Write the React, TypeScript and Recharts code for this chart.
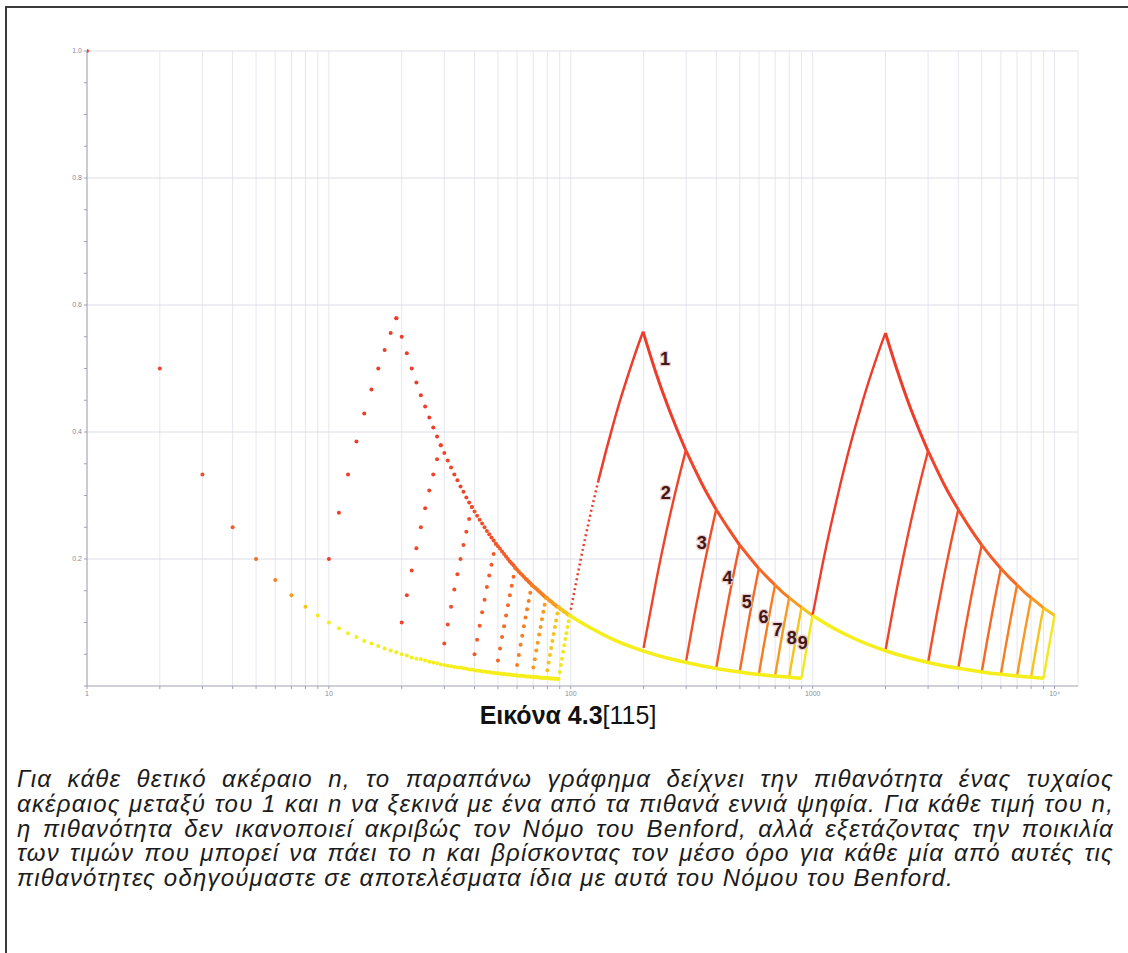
import React from "react";
import { ComposedChart, Line, Scatter, XAxis, YAxis, CartesianGrid } from "recharts";

// colour of each leading digit 1..9, red -> yellow
const DIGIT_COLORS = ["#ef3c2a", "#f0442a", "#f14e28", "#f35a26", "#f46a24", "#f67e22", "#f89a20", "#f6c21e", "#f3e81c"];
const LOWER_COLOR = "#f5ee1a";
const AXIS_COLOR = "#a0a0b8";
const FONT = "'Liberation Sans', Arial, Helvetica, sans-serif";

const X_TICKS = [1, 2, 3, 4, 5, 6, 7, 8, 9, 10, 20, 30, 40, 50, 60, 70, 80, 90, 100, 200, 300, 400, 500, 600, 700, 800, 900,
  1000, 2000, 3000, 4000, 5000, 6000, 7000, 8000, 9000, 10000];
const X_LABELS: Record<number, string> = { 1: "1", 10: "10", 100: "100", 1000: "1000", 10000: "10⁴" };
const Y_TICKS = [0, 0.05, 0.1, 0.15, 0.2, 0.25, 0.3, 0.35, 0.4, 0.45, 0.5, 0.55, 0.6, 0.65, 0.7, 0.75, 0.8, 0.85, 0.9, 0.95, 1];
const Y_LABELS = [0.2, 0.4, 0.6, 0.8, 1];

// n = 1..9
const N1 = [1, 2, 3, 4, 5, 6, 7, 8, 9];
const P1 = [1, 0.5, 0.333, 0.25, 0.2, 0.167, 0.143, 0.125, 0.111];

// n = 10..99, one dot per integer
const N2 = [
  10, 11, 12, 13, 14, 15, 16, 17, 18, 19,
  20, 21, 22, 23, 24, 25, 26, 27, 28, 29,
  30, 31, 32, 33, 34, 35, 36, 37, 38, 39,
  40, 41, 42, 43, 44, 45, 46, 47, 48, 49,
  50, 51, 52, 53, 54, 55, 56, 57, 58, 59,
  60, 61, 62, 63, 64, 65, 66, 67, 68, 69,
  70, 71, 72, 73, 74, 75, 76, 77, 78, 79,
  80, 81, 82, 83, 84, 85, 86, 87, 88, 89,
  90, 91, 92, 93, 94, 95, 96, 97, 98, 99,
];
const UPPER2 = [
  null, null, null, null, null, null, null, null, null, 0.579,
  0.55, 0.524, 0.5, 0.478, 0.458, 0.44, 0.423, 0.407, 0.393, 0.379,
  0.367, 0.355, 0.344, 0.333, 0.324, 0.314, 0.306, 0.297, 0.289, 0.282,
  0.275, 0.268, 0.262, 0.256, 0.25, 0.244, 0.239, 0.234, 0.229, 0.224,
  0.22, 0.216, 0.212, 0.208, 0.204, 0.2, 0.196, 0.193, 0.19, 0.186,
  0.183, 0.18, 0.177, 0.175, 0.172, 0.169, 0.167, 0.164, 0.162, 0.159,
  0.157, 0.155, 0.153, 0.151, 0.149, 0.147, 0.145, 0.143, 0.141, 0.139,
  0.138, 0.136, 0.134, 0.133, 0.131, 0.129, 0.128, 0.126, 0.125, 0.124,
  0.122, 0.121, 0.12, 0.118, 0.117, 0.116, 0.115, 0.113, 0.112, 0.111,
];
const LOWER2 = [
  0.1, 0.091, 0.083, 0.077, 0.071, 0.067, 0.063, 0.059, 0.056, 0.053,
  0.05, 0.048, 0.045, 0.043, 0.042, 0.04, 0.038, 0.037, 0.036, 0.034,
  0.033, 0.032, 0.031, 0.03, 0.029, 0.029, 0.028, 0.027, 0.026, 0.026,
  0.025, 0.024, 0.024, 0.023, 0.023, 0.022, 0.022, 0.021, 0.021, 0.02,
  0.02, 0.0196, 0.019, 0.019, 0.0185, 0.018, 0.018, 0.0175, 0.017, 0.017,
  0.0167, 0.016, 0.016, 0.016, 0.0156, 0.015, 0.015, 0.015, 0.0147, 0.0145,
  0.014, 0.014, 0.014, 0.0137, 0.0135, 0.013, 0.013, 0.013, 0.0128, 0.0127,
  0.0125, 0.0123, 0.012, 0.012, 0.012, 0.0118, 0.0116, 0.0115, 0.0114, 0.0112,
  null, null, null, null, null, null, null, null, null, null,
];
// rise of digit d over n = 10d..10d+9
const RISE2 = [
  [0.2, 0.273, 0.333, 0.385, 0.429, 0.467, 0.5, 0.529, 0.556, 0.579],
  [0.1, 0.143, 0.182, 0.217, 0.25, 0.28, 0.308, 0.333, 0.357, 0.379],
  [0.067, 0.097, 0.125, 0.152, 0.176, 0.2, 0.222, 0.243, 0.263, 0.282],
  [0.05, 0.073, 0.095, 0.116, 0.136, 0.156, 0.174, 0.191, 0.208, 0.224],
  [0.04, 0.059, 0.077, 0.094, 0.111, 0.127, 0.143, 0.158, 0.172, 0.186],
  [0.033, 0.049, 0.065, 0.079, 0.094, 0.108, 0.121, 0.134, 0.147, 0.159],
  [0.029, 0.042, 0.056, 0.068, 0.081, 0.093, 0.105, 0.117, 0.128, 0.139],
  [0.025, 0.037, 0.049, 0.06, 0.071, 0.082, 0.093, 0.103, 0.114, 0.124],
  [0.022, 0.033, 0.043, 0.054, 0.064, 0.074, 0.083, 0.093, 0.102, 0.111],
];

// n = 100..999
const LOWER3_N = [100, 120, 150, 200, 250, 300, 400, 500, 600, 700, 800, 899];
const LOWER3_P = [0.11, 0.092, 0.073, 0.055, 0.044, 0.037, 0.0275, 0.022, 0.018, 0.0157, 0.0138, 0.0122];
const UPPER3_N = [199, 225, 250, 275, 299, 325, 350, 375, 399, 450, 499, 550, 599, 650, 699, 750, 799, 850, 899, 950, 999];
const UPPER3_P = [0.558, 0.493, 0.444, 0.404, 0.371, 0.342, 0.317, 0.296, 0.278, 0.247, 0.222, 0.202, 0.185, 0.171,
  0.159, 0.148, 0.139, 0.131, 0.124, 0.117, 0.111];
const RISE3_N = [
  [100, 110, 120, 130, 140, 150, 160, 170, 180, 190, 199],
  [200, 225, 250, 275, 299],
  [300, 325, 350, 375, 399],
  [400, 425, 450, 475, 499],
  [500, 525, 550, 575, 599],
  [600, 625, 650, 675, 699],
  [700, 725, 750, 775, 799],
  [800, 825, 850, 875, 899],
  [900, 925, 950, 975, 999],
];
const RISE3_P = [
  [0.12, 0.2, 0.267, 0.323, 0.371, 0.413, 0.45, 0.482, 0.511, 0.537, 0.558],
  [0.06, 0.164, 0.248, 0.316, 0.371],
  [0.04, 0.114, 0.177, 0.232, 0.278],
  [0.03, 0.087, 0.138, 0.183, 0.222],
  [0.024, 0.07, 0.113, 0.151, 0.185],
  [0.02, 0.059, 0.095, 0.129, 0.159],
  [0.017, 0.051, 0.083, 0.112, 0.139],
  [0.015, 0.045, 0.073, 0.099, 0.124],
  [0.013, 0.04, 0.065, 0.089, 0.111],
];

// n = 1000..9999
const LOWER4_N = [1000, 1200, 1500, 2000, 2500, 3000, 4000, 5000, 6000, 7000, 8000, 8999];
const LOWER4_P = [0.111, 0.0925, 0.074, 0.0555, 0.0444, 0.037, 0.0278, 0.0222, 0.0185, 0.0159, 0.0139, 0.0123];
const UPPER4_N = [1999, 2250, 2500, 2750, 2999, 3250, 3500, 3750, 3999, 4500, 4999, 5500, 5999, 6500, 6999, 7500, 7999,
  8500, 8999, 9500, 9999];
const UPPER4_P = [0.556, 0.494, 0.444, 0.404, 0.37, 0.342, 0.317, 0.296, 0.278, 0.247, 0.222, 0.202, 0.185, 0.171,
  0.159, 0.148, 0.139, 0.131, 0.123, 0.117, 0.111];
const RISE4_N = [
  [1000, 1100, 1200, 1300, 1400, 1500, 1600, 1700, 1800, 1900, 1999],
  [2000, 2250, 2500, 2750, 2999],
  [3000, 3250, 3500, 3750, 3999],
  [4000, 4250, 4500, 4750, 4999],
  [5000, 5250, 5500, 5750, 5999],
  [6000, 6250, 6500, 6750, 6999],
  [7000, 7250, 7500, 7750, 7999],
  [8000, 8250, 8500, 8750, 8999],
  [9000, 9250, 9500, 9750, 9999],
];
const RISE4_P = [
  [0.112, 0.193, 0.26, 0.317, 0.366, 0.408, 0.445, 0.478, 0.507, 0.533, 0.556],
  [0.056, 0.161, 0.245, 0.313, 0.37],
  [0.037, 0.111, 0.175, 0.23, 0.278],
  [0.028, 0.085, 0.136, 0.182, 0.222],
  [0.022, 0.069, 0.111, 0.15, 0.185],
  [0.019, 0.058, 0.094, 0.128, 0.159],
  [0.016, 0.05, 0.082, 0.111, 0.139],
  [0.014, 0.044, 0.072, 0.099, 0.123],
  [0.012, 0.039, 0.064, 0.088, 0.111],
];

// digit labels next to the 100..999 curves
const LABEL_N = [245, 247, 348, 445, 534, 627, 716, 819, 909];
const LABEL_P = [0.515, 0.304, 0.225, 0.17, 0.132, 0.109, 0.088, 0.076, 0.068];
const LABEL_TEXT = ["1", "2", "3", "4", "5", "6", "7", "8", "9"];

const CAPTION_BOLD = "Εικόνα 4.3";
const CAPTION_REF = "[115]";
const PARAGRAPH = [
  "Για κάθε θετικό ακέραιο n, το παραπάνω γράφημα δείχνει την πιθανότητα ένας τυχαίος",
  "ακέραιος μεταξύ του 1 και n να ξεκινά με ένα από τα πιθανά εννιά ψηφία. Για κάθε τιμή του n,",
  "η πιθανότητα δεν ικανοποιεί ακριβώς τον Νόμο του Benford, αλλά εξετάζοντας την ποικιλία",
  "των τιμών που μπορεί να πάει το n και βρίσκοντας τον μέσο όρο για κάθε μία από αυτές τις",
  "πιθανότητες οδηγούμαστε σε αποτελέσματα ίδια με αυτά του Νόμου του Benford.",
];

type Row = { n: number; p: number };
const rows = (ns: number[], ps: (number | null)[]): Row[] =>
  ns.map((n, i) => ({ n, p: ps[i] })).filter((r) => r.p != null) as Row[];

const dot = (color: string, r = 2) => (props: any) =>
  props.cx == null ? <g /> : <circle cx={props.cx} cy={props.cy} r={r} fill={color} />;

const d1Rows = rows(N1, P1);
const upper2Rows = rows(N2, UPPER2);
const upper2Groups = DIGIT_COLORS.map((_, d) => upper2Rows.filter((r) => Math.floor((r.n + 1) / 10) - 2 === d));
const lower2Rows = rows(N2, LOWER2);
const rise2Rows = RISE2.map((ps, d) => rows(N2.slice(d * 10, d * 10 + 10), ps));

function upperSegments(ns: number[], ps: number[], unit: number) {
  const all = rows(ns, ps);
  return [1, 2, 3, 4, 5, 6, 7, 8].map((d) => all.filter((r) => r.n >= (d + 1) * unit - 1 && r.n <= (d + 2) * unit - 1));
}

const rise3Rows = RISE3_N.map((ns, d) => rows(ns, RISE3_P[d]));
const upper3Segs = upperSegments(UPPER3_N, UPPER3_P, 100);
const lower3Rows = rows(LOWER3_N, LOWER3_P);
const rise4Rows = RISE4_N.map((ns, d) => rows(ns, RISE4_P[d]));
const upper4Segs = upperSegments(UPPER4_N, UPPER4_P, 1000);
const lower4Rows = rows(LOWER4_N, LOWER4_P);
const labelRows = LABEL_N.map((n, i) => ({ n, p: LABEL_P[i], text: LABEL_TEXT[i] }));

const labelShape = (props: any) => (
  <text x={props.cx} y={props.cy} dy={6} textAnchor="middle" fontSize={18} fontWeight={700}
    fill="#421616" stroke="#e8cccc" strokeWidth={2.5} paintOrder="stroke" fontFamily={FONT}>
    {props.payload.text}
  </text>
);

export default function App() {
  const riseLines = (sets: Row[][], key: string, dottedUntil: number) =>
    sets.flatMap((data, d) => {
      if (d === 0 && dottedUntil > 0) {
        return [
          <Line key={`${key}-dot`} data={data.filter((r) => r.n <= dottedUntil)} dataKey="p" type="monotone"
            stroke={DIGIT_COLORS[0]} strokeWidth={2.5} strokeDasharray="2 3" dot={false} isAnimationActive={false} />,
          <Line key={`${key}-0`} data={data.filter((r) => r.n >= dottedUntil)} dataKey="p" type="monotone"
            stroke={DIGIT_COLORS[0]} strokeWidth={2.5} dot={false} isAnimationActive={false} />,
        ];
      }
      return [
        <Line key={`${key}-${d}`} data={data} dataKey="p" type="monotone" stroke={DIGIT_COLORS[d]}
          strokeWidth={2.4} dot={false} isAnimationActive={false} />,
      ];
    });
  const upperLines = (segs: Row[][], key: string) =>
    segs.map((data, d) => (
      <Line key={`${key}-${d}`} data={data} dataKey="p" type="monotone" stroke={DIGIT_COLORS[d]}
        strokeWidth={3} dot={false} isAnimationActive={false} />
    ));

  return (
    <div style={{ position: "absolute", left: 0, top: 0, width: 1128, height: 953, overflow: "hidden", background: "#fff", fontFamily: FONT }}>
      <div style={{ position: "absolute", left: 5, top: 6, width: 2, height: 960, background: "#3c3c3c" }} />
      <div style={{ position: "absolute", left: 5, top: 6, width: 1140, height: 2, background: "#3c3c3c" }} />
      <div style={{ position: "absolute", left: 0, top: 0 }}>
        <ComposedChart width={1128} height={712} margin={{ top: 51, right: 50, bottom: 4, left: 47 }}>
          <CartesianGrid horizontal={false} stroke="#e6e6f0" />
          <CartesianGrid vertical={false} horizontalValues={Y_LABELS} stroke="#dcdce6" />
          <XAxis dataKey="n" type="number" scale="log" domain={[1, 12500]} allowDataOverflow ticks={X_TICKS} interval={0}
            tickFormatter={(v: number) => X_LABELS[v] ?? ""} height={22} tickSize={3} tickMargin={2}
            tick={{ fontSize: 7, fill: "#8a8a9c", fontFamily: FONT }} axisLine={{ stroke: AXIS_COLOR }} tickLine={{ stroke: AXIS_COLOR }} />
          <YAxis dataKey="p" type="number" domain={[0, 1]} ticks={Y_TICKS} interval={0} width={40} tickSize={3} tickMargin={2}
            tickFormatter={(v: number) => (Y_LABELS.some((y) => Math.abs(y - v) < 1e-6) ? v.toFixed(1) : "")}
            tick={{ fontSize: 7, fill: "#8a8a9c", fontFamily: FONT }} axisLine={{ stroke: AXIS_COLOR }} tickLine={{ stroke: AXIS_COLOR }} />

          {/* 1..9 */}
          <Scatter data={d1Rows} dataKey="p" isAnimationActive={false}
            shape={(props: any) => <circle cx={props.cx} cy={props.cy} r={2} fill={DIGIT_COLORS[props.payload.n - 1]} />} />

          {/* 10..99 */}
          <Scatter data={lower2Rows} dataKey="p" isAnimationActive={false} shape={dot(LOWER_COLOR, 2)} />
          {rise2Rows.map((data, d) => (
            <Scatter key={`r2-${d}`} data={data} dataKey="p" isAnimationActive={false} shape={dot(DIGIT_COLORS[d], 2)} />
          ))}
          {upper2Groups.map((data, d) => (
            <Scatter key={`u2-${d}`} data={data} dataKey="p" isAnimationActive={false} shape={dot(DIGIT_COLORS[d], 2)} />
          ))}

          {/* 100..999 */}
          {riseLines(rise3Rows, "r3", 130)}
          {upperLines(upper3Segs, "u3")}
          <Line data={lower3Rows} dataKey="p" type="monotone" stroke={LOWER_COLOR} strokeWidth={3.5} dot={false} isAnimationActive={false} />

          {/* 1000..9999 */}
          {riseLines(rise4Rows, "r4", 0)}
          {upperLines(upper4Segs, "u4")}
          <Line data={lower4Rows} dataKey="p" type="monotone" stroke={LOWER_COLOR} strokeWidth={3.5} dot={false} isAnimationActive={false} />

          <Scatter data={labelRows} dataKey="p" isAnimationActive={false} shape={labelShape} />
        </ComposedChart>
      </div>
      <div style={{ position: "absolute", left: 4, width: 1128, top: 701, textAlign: "center", fontSize: 25, lineHeight: "28px", color: "#111" }}>
        <b>{CAPTION_BOLD}</b>{CAPTION_REF}
      </div>
      <div style={{ position: "absolute", left: 17, top: 767, width: 1097, fontSize: 24, lineHeight: "24.8px", letterSpacing: "1.2px", fontStyle: "italic", color: "#1c1c1c" }}>
        {PARAGRAPH.map((t, i) => (
          <div key={i} style={{ textAlign: i < 4 ? "justify" : "left", textAlignLast: i < 4 ? "justify" : "left" }}>{t}</div>
        ))}
      </div>
    </div>
  );
}
